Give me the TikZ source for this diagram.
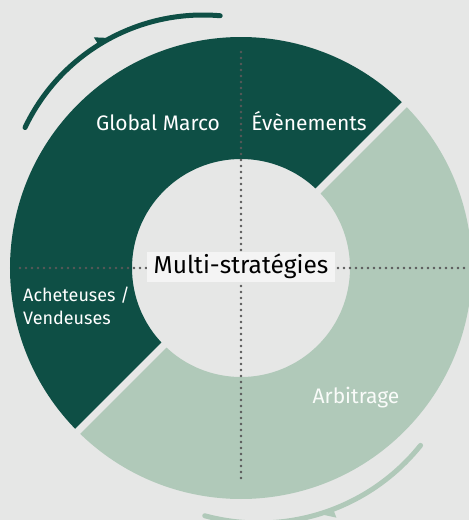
\documentclass[tikz,border=0pt]{standalone}
\usepackage{fontspec}
\setmainfont{Fira Sans}
\definecolor{bggrey}{RGB}{230,231,230}
\definecolor{darkgreen}{RGB}{14,79,69}
\definecolor{sage}{RGB}{176,201,185}
\definecolor{dotgrey}{RGB}{88,88,88}
\definecolor{boxgrey}{RGB}{244,244,244}

\begin{document}
\begin{tikzpicture}[x=1pt,y=1pt,
    lbl/.style={text=white, font=\fontsize{21}{25}\selectfont, inner sep=0pt},
    dotline/.style={dotgrey, line width=2.7pt, line cap=round, dash pattern=on 0pt off 6pt},
    cycarrow/.style={line width=5pt, line cap=round}]

\fill[bggrey] (-241,-252) rectangle (228,268);
\useasboundingbox (-241,-252) rectangle (228,268);

% ring: dark half and sage half
\fill[darkgreen] (45:231) arc[start angle=45, end angle=225, radius=231]
    -- (225:109) arc[start angle=225, end angle=45, radius=109] -- cycle;
\fill[sage] (225:231) arc[start angle=225, end angle=405, radius=231]
    -- (45:109) arc[start angle=45, end angle=-135, radius=109] -- cycle;
\draw[bggrey, line width=7pt] (45:236) -- (225:236);%gap between halves

% axes
\draw[dotline] (0,216) -- (0,-213);
\draw[dotline] (-221,0) -- (228,0);

\node[fill=boxgrey, font=\fontsize{24.5}{28}\selectfont, inner xsep=7pt,
    text height=17pt, text depth=5pt, inner ysep=4pt] (centre) at (0,1) {Multi-stratégies};

\node[lbl, anchor=base] (global) at (-83,138) {Global Marco};
\node[lbl, anchor=base] (events) at (68,138) {Évènements};
\node[lbl, font=\fontsize{18}{23}\selectfont, anchor=north west, align=left] (achat) at (-218,-19) {Acheteuses /\\Vendeuses};
\node[lbl, anchor=base, text=white!92!sage] (arbi) at (115,-135) {Arbitrage};

% cycle arrows with half heads
\begin{scope}[shift={(-38,56)}]
    \draw[cycarrow, darkgreen] (85:197) arc[start angle=85, end angle=154.6, radius=197];
    \fill[darkgreen] (118:197) -- (122:197) -- (122:206) -- cycle;
\end{scope}
\begin{scope}[shift={(18,-48)}]
    \draw[cycarrow, sage] (254.8:207) arc[start angle=254.8, end angle=321.3, radius=207];
    \fill[sage] (287:207) -- (291:207) -- (291:216) -- cycle;
\end{scope}
\end{tikzpicture}
\end{document}
